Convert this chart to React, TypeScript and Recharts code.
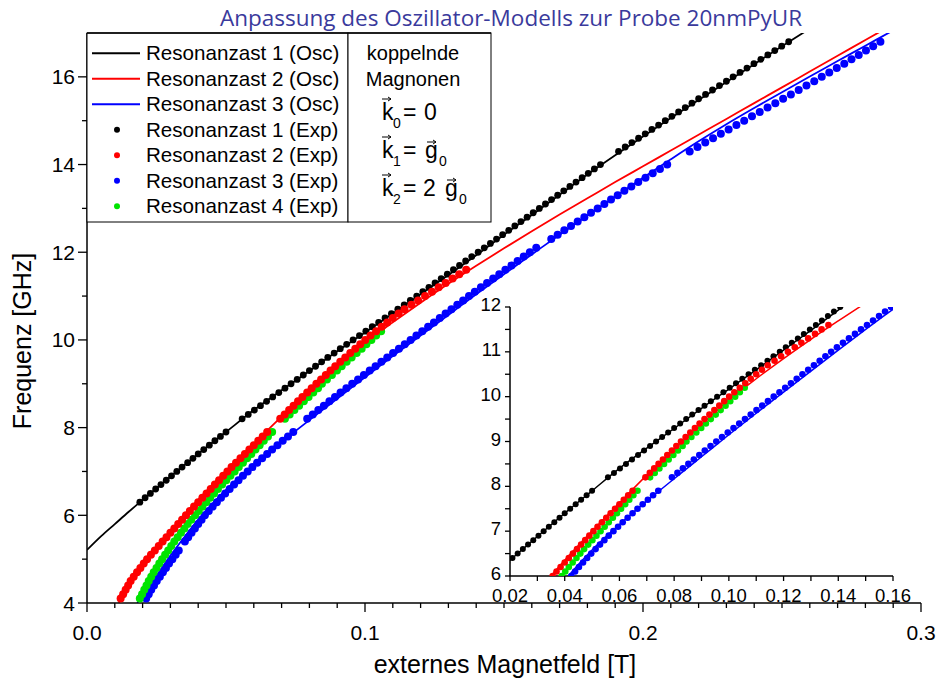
import React from 'react';
import { ComposedChart, Line, Scatter, XAxis, YAxis } from 'recharts';

// oscillator model curves: [field T, frequency GHz]
const osc1 = [
  [0, 5.21], [0.005, 5.52], [0.01, 5.8], [0.015, 6.08], [0.02, 6.35], [0.03, 6.88], [0.04, 7.4],
  [0.05, 7.9], [0.06, 8.4], [0.07, 8.85], [0.08, 9.29], [0.09, 9.74], [0.1, 10.17], [0.11, 10.6],
  [0.12, 11.04], [0.13, 11.48], [0.14, 11.93], [0.15, 12.4], [0.16, 12.85], [0.17, 13.31],
  [0.18, 13.77], [0.19, 14.21], [0.2, 14.64], [0.21, 15.06], [0.22, 15.47], [0.23, 15.88],
  [0.24, 16.29], [0.25, 16.7], [0.26, 17.1],
];
const osc2 = [
  [0.0115, 4.0], [0.015, 4.4], [0.02, 4.86], [0.025, 5.25], [0.03, 5.63], [0.035, 6.0], [0.04, 6.35],
  [0.05, 7.0], [0.06, 7.63], [0.07, 8.25], [0.08, 8.83], [0.09, 9.38], [0.1, 9.93], [0.11, 10.4],
  [0.12, 10.85], [0.13, 11.28], [0.14, 11.69], [0.15, 12.09], [0.16, 12.48], [0.17, 12.86],
  [0.18, 13.23], [0.19, 13.6], [0.2, 13.96], [0.21, 14.32], [0.22, 14.68], [0.23, 15.04],
  [0.24, 15.4], [0.25, 15.76], [0.26, 16.12], [0.27, 16.48], [0.28, 16.84], [0.29, 17.2],
];
const osc3 = [
  [0.0181, 4.0], [0.02, 4.18], [0.025, 4.62], [0.03, 5.08], [0.035, 5.5], [0.04, 5.9], [0.05, 6.58],
  [0.06, 7.15], [0.07, 7.67], [0.08, 8.17], [0.09, 8.66], [0.1, 9.15], [0.11, 9.63], [0.12, 10.1],
  [0.13, 10.57], [0.14, 11.04], [0.15, 11.5], [0.16, 11.95], [0.17, 12.4], [0.18, 12.84],
  [0.19, 13.27], [0.2, 13.7], [0.21, 14.12], [0.22, 14.53], [0.23, 14.92], [0.24, 15.29],
  [0.25, 15.65], [0.26, 16.01], [0.27, 16.36], [0.28, 16.71], [0.29, 17.06],
];

// measured resonances: [field T, frequency GHz]
const exp1 = [
  [0.019, 6.3], [0.0209, 6.4], [0.0228, 6.5], [0.0247, 6.6], [0.0266, 6.7], [0.0285, 6.8], [0.0304, 6.9],
  [0.0323, 7.0], [0.0342, 7.1], [0.0362, 7.2], [0.0381, 7.3], [0.04, 7.4], [0.042, 7.5], [0.044, 7.6],
  [0.046, 7.7], [0.048, 7.8], [0.05, 7.9],
  [0.0558, 8.2], [0.058, 8.3], [0.0602, 8.4], [0.0624, 8.5], [0.0646, 8.6], [0.0668, 8.7], [0.069, 8.8],
  [0.0712, 8.9], [0.0734, 9.0], [0.0756, 9.1], [0.0778, 9.2], [0.08, 9.3], [0.0822, 9.4], [0.0844, 9.5],
  [0.0866, 9.6], [0.0889, 9.7], [0.0911, 9.8], [0.0934, 9.9], [0.0957, 10.0], [0.098, 10.1],
  [0.1003, 10.2], [0.1026, 10.3], [0.1049, 10.4], [0.1072, 10.5], [0.1095, 10.6], [0.1118, 10.7],
  [0.1141, 10.8], [0.1163, 10.9], [0.1186, 11.0], [0.1208, 11.1], [0.123, 11.2], [0.1252, 11.3],
  [0.1274, 11.4], [0.1296, 11.5], [0.1318, 11.6], [0.134, 11.7], [0.1362, 11.8], [0.1384, 11.9],
  [0.1407, 12.0], [0.1429, 12.1], [0.1451, 12.2], [0.1473, 12.3], [0.1495, 12.4], [0.1517, 12.5],
  [0.1539, 12.6], [0.1561, 12.7], [0.1583, 12.8], [0.1605, 12.9], [0.1627, 13.0], [0.1649, 13.1],
  [0.1671, 13.2], [0.1693, 13.3], [0.1715, 13.4], [0.1737, 13.5], [0.1759, 13.6], [0.1781, 13.7],
  [0.1803, 13.8], [0.1825, 13.9], [0.1847, 14.0],
  [0.1912, 14.3], [0.1936, 14.4], [0.196, 14.5], [0.1984, 14.6], [0.2008, 14.7], [0.2032, 14.8],
  [0.2056, 14.9], [0.208, 15.0], [0.2104, 15.1], [0.2128, 15.2], [0.2152, 15.3], [0.2176, 15.4],
  [0.22, 15.5], [0.2225, 15.6], [0.225, 15.7], [0.2275, 15.8], [0.23, 15.9], [0.2324, 16.0],
  [0.2349, 16.1], [0.2374, 16.2], [0.2399, 16.3], [0.2424, 16.4], [0.2449, 16.5], [0.2474, 16.6],
  [0.2499, 16.7], [0.2524, 16.8],
];
const exp2 = [
  [0.0121, 4.1], [0.013, 4.2], [0.0139, 4.3], [0.0148, 4.4], [0.0157, 4.5], [0.0168, 4.6], [0.018, 4.7],
  [0.0192, 4.8], [0.0204, 4.9], [0.0216, 5.0], [0.023, 5.1], [0.0244, 5.2], [0.0258, 5.3], [0.0272, 5.4],
  [0.0286, 5.5], [0.03, 5.6], [0.0314, 5.7], [0.0328, 5.8], [0.0342, 5.9], [0.0356, 6.0], [0.037, 6.1],
  [0.0385, 6.2], [0.04, 6.3], [0.0415, 6.4], [0.043, 6.5], [0.0445, 6.6], [0.046, 6.7], [0.0475, 6.8],
  [0.049, 6.9], [0.0505, 7.0], [0.052, 7.1], [0.0536, 7.2], [0.0552, 7.3], [0.0568, 7.4], [0.0584, 7.5],
  [0.06, 7.6], [0.0616, 7.7], [0.0632, 7.8], [0.0648, 7.9],
  [0.0695, 8.2], [0.0711, 8.3], [0.0727, 8.4], [0.0743, 8.5], [0.0759, 8.6], [0.0775, 8.7],
  [0.0792, 8.8], [0.0808, 8.9], [0.0825, 9.0], [0.0842, 9.1], [0.0859, 9.2], [0.0876, 9.3],
  [0.0893, 9.4], [0.0911, 9.5], [0.0929, 9.6], [0.0947, 9.7], [0.0965, 9.8], [0.0983, 9.9],
  [0.1001, 10.0], [0.102, 10.1], [0.104, 10.2], [0.106, 10.3], [0.108, 10.4], [0.11, 10.5],
  [0.1121, 10.6], [0.1142, 10.7], [0.1167, 10.8], [0.1191, 10.9], [0.1216, 11.0], [0.1241, 11.1],
  [0.1265, 11.2], [0.129, 11.3], [0.1315, 11.4], [0.1339, 11.5], [0.1364, 11.6],
];
const exp3 = [
  [0.0213, 4.1], [0.0222, 4.2], [0.0231, 4.3], [0.0241, 4.4], [0.0251, 4.5], [0.0262, 4.6], [0.0273, 4.7],
  [0.0284, 4.8], [0.0295, 4.9], [0.0307, 5.0], [0.0319, 5.1], [0.033, 5.2],
  [0.0352, 5.4], [0.0364, 5.5], [0.0376, 5.6], [0.0388, 5.7], [0.04, 5.8], [0.0412, 5.9], [0.0424, 6.0],
  [0.0438, 6.1], [0.0452, 6.2], [0.0467, 6.3], [0.0482, 6.4], [0.0497, 6.5], [0.0513, 6.6], [0.0529, 6.7],
  [0.0545, 6.8], [0.0561, 6.9], [0.0578, 7.0], [0.0595, 7.1], [0.0612, 7.2], [0.063, 7.3], [0.0648, 7.4],
  [0.0666, 7.5], [0.0685, 7.6], [0.0704, 7.7], [0.0723, 7.8], [0.0742, 7.9],
  [0.0792, 8.2], [0.0812, 8.3], [0.0832, 8.4], [0.0852, 8.5], [0.0872, 8.6], [0.0892, 8.7],
  [0.0912, 8.8], [0.0933, 8.9], [0.0954, 9.0], [0.0975, 9.1], [0.0996, 9.2], [0.1017, 9.3],
  [0.1038, 9.4], [0.1059, 9.5], [0.108, 9.6], [0.1101, 9.7], [0.1122, 9.8], [0.1143, 9.9],
  [0.1164, 10.0], [0.1185, 10.1], [0.1206, 10.2], [0.1227, 10.3], [0.1248, 10.4], [0.1269, 10.5],
  [0.129, 10.6], [0.1311, 10.7], [0.1332, 10.8], [0.1353, 10.9], [0.1374, 11.0], [0.1395, 11.1],
  [0.1417, 11.2], [0.1439, 11.3], [0.1461, 11.4], [0.1483, 11.5], [0.1505, 11.6], [0.1527, 11.7],
  [0.1549, 11.8], [0.1571, 11.9], [0.1593, 12.0], [0.1616, 12.1],
  [0.167, 12.3], [0.1693, 12.4], [0.1717, 12.5], [0.1741, 12.6], [0.1765, 12.7], [0.1789, 12.8],
  [0.1813, 12.9], [0.1837, 13.0], [0.1861, 13.1], [0.1885, 13.2], [0.1909, 13.3], [0.1933, 13.4],
  [0.1958, 13.5], [0.1983, 13.6], [0.2009, 13.7], [0.2035, 13.8], [0.2061, 13.9], [0.2087, 14.0],
  [0.2168, 14.3], [0.2196, 14.4], [0.2224, 14.5], [0.2252, 14.6], [0.228, 14.7], [0.2308, 14.8],
  [0.2336, 14.9], [0.2364, 15.0], [0.2392, 15.1], [0.242, 15.2], [0.2448, 15.3], [0.2476, 15.4],
  [0.2504, 15.5], [0.2532, 15.6], [0.256, 15.7], [0.2588, 15.8], [0.2616, 15.9], [0.2643, 16.0],
  [0.267, 16.1], [0.2697, 16.2], [0.2724, 16.3], [0.275, 16.4], [0.2776, 16.5], [0.2802, 16.6],
  [0.2828, 16.7], [0.2854, 16.8],
];
const exp4 = [
  [0.019, 4.1], [0.0198, 4.2], [0.0206, 4.3], [0.0214, 4.4], [0.0222, 4.5], [0.0231, 4.6], [0.024, 4.7],
  [0.025, 4.8], [0.026, 4.9], [0.027, 5.0], [0.0281, 5.1], [0.0292, 5.2], [0.0303, 5.3], [0.0314, 5.4],
  [0.0326, 5.5], [0.0338, 5.6], [0.035, 5.7], [0.0362, 5.8], [0.0375, 5.9], [0.0389, 6.0], [0.0402, 6.1],
  [0.0415, 6.2], [0.0429, 6.3], [0.0443, 6.4], [0.0457, 6.5], [0.0471, 6.6], [0.0486, 6.7], [0.0501, 6.8],
  [0.0516, 6.9], [0.0531, 7.0], [0.0546, 7.1], [0.0561, 7.2], [0.0576, 7.3], [0.0591, 7.4], [0.0606, 7.5],
  [0.0621, 7.6], [0.0636, 7.7], [0.0651, 7.8], [0.0666, 7.9],
  [0.0712, 8.2], [0.0729, 8.3], [0.0746, 8.4], [0.0763, 8.5], [0.078, 8.6], [0.0797, 8.7],
  [0.0814, 8.8], [0.0831, 8.9], [0.0845, 9.0], [0.0863, 9.1], [0.0881, 9.2], [0.0899, 9.3],
  [0.0916, 9.4], [0.0934, 9.5], [0.0952, 9.6], [0.097, 9.7], [0.0988, 9.8], [0.1005, 9.9],
  [0.1023, 10.0], [0.104, 10.1], [0.1058, 10.2],
];

const legendNames = [
  'Resonanzast 1 (Osc)', 'Resonanzast 2 (Osc)', 'Resonanzast 3 (Osc)',
  'Resonanzast 1 (Exp)', 'Resonanzast 2 (Exp)', 'Resonanzast 3 (Exp)', 'Resonanzast 4 (Exp)',
];
const BLACK = '#000000';
const RED = '#ff0000';
const BLUE = '#0000ff';
const GREEN = '#00e400';

const mainXMajor = [0, 0.1, 0.2, 0.3];
const mainYMajor = [4, 6, 8, 10, 12, 14, 16];
const insetXMajor = [0.02, 0.04, 0.06, 0.08, 0.1, 0.12, 0.14, 0.16];
const insetYMajor = [6, 7, 8, 9, 10, 11, 12];

const mainXTicks = Array.from({ length: 31 }, (_, i) => i / 100);
const mainYTicks = Array.from({ length: 13 }, (_, i) => 4 + i);
const insetXTicks = Array.from({ length: 15 }, (_, i) => (i + 2) / 100);
const insetYTicks = Array.from({ length: 13 }, (_, i) => 6 + i / 2);

const FONT = 'Liberation Sans, Arial, sans-serif';

const xy = (a: number[][]) => a.map(([x, y]) => ({ x, y }));

type Side = 'bottom' | 'left' | 'top' | 'right';
const makeTick = (side: Side, majors: number[], major: number, minor: number,
  fmt?: (v: number) => string, off = 0, fs = 20, lift = 0) => (props: any) => {
  const { x, y, payload } = props;
  const v = payload.value;
  const isMajor = majors.some((m) => Math.abs(m - v) < 1e-6);
  const len = isMajor ? major : minor;
  let l = [x, y, x, y];
  if (side === 'bottom' || side === 'top') l = [x, y, x, y + len];
  if (side === 'left' || side === 'right') l = [x, y, x - len, y];
  return (
    <g>
      <line x1={l[0]} y1={l[1]} x2={l[2]} y2={l[3]} stroke="#000" strokeWidth={1.3} />
      {isMajor && fmt && side === 'bottom' && (
        <text x={x} y={y + off} textAnchor="middle" fontSize={fs} fontFamily={FONT} fill="#000">{fmt(v)}</text>
      )}
      {isMajor && fmt && side === 'left' && (
        <text x={x - off} y={y + fs * 0.36 - lift} textAnchor="end" fontSize={fs} fontFamily={FONT} fill="#000">{fmt(v)}</text>
      )}
    </g>
  );
};

const dot = (fill: string, r: number) => (p: any) => <circle cx={p.cx} cy={p.cy} r={r} fill={fill} />;

const axisLine = { stroke: '#000', strokeWidth: 1.5 };

const renderSeries = (big: boolean) => {
  const lw = big ? 1.8 : 1.5;
  const rb = big ? 3.4 : 3;
  const rc = big ? 4 : 3.3;
  return [
    <Line key="o1" data={xy(osc1)} dataKey="y" type="monotone" stroke={BLACK} strokeWidth={lw} dot={false} isAnimationActive={false} />,
    <Line key="o2" data={xy(osc2)} dataKey="y" type="monotone" stroke={RED} strokeWidth={lw} dot={false} isAnimationActive={false} />,
    <Line key="o3" data={xy(osc3)} dataKey="y" type="monotone" stroke={BLUE} strokeWidth={lw} dot={false} isAnimationActive={false} />,
    <Scatter key="e1" data={xy(exp1)} shape={dot(BLACK, rb)} isAnimationActive={false} />,
    <Scatter key="e3" data={xy(exp3)} shape={dot(BLUE, rc)} isAnimationActive={false} />,
    <Scatter key="e4" data={xy(exp4)} shape={dot(GREEN, rc)} isAnimationActive={false} />,
    <Scatter key="e2" data={xy(exp2)} shape={dot(RED, rc)} isAnimationActive={false} />,
  ];
};

const Arrow = ({ x, y, w }: { x: number; y: number; w: number }) => (
  <path d={`M${x},${y} H${x + w} M${x + w - 3},${y - 2} L${x + w},${y} L${x + w - 3},${y + 2}`} stroke="#000" strokeWidth={1} fill="none" />
);

export default function App() {
  const rows = [53.3, 78.8, 104.3, 129.8, 155.3, 180.8, 206.3];
  const colors = [BLACK, RED, BLUE, BLACK, RED, BLUE, GREEN];
  return (
    <div style={{ position: 'absolute', left: 0, top: 0, width: 937, height: 684, background: '#fff' }}>
      <div style={{ position: 'absolute', left: 0, top: 0 }}>
        <ComposedChart width={937} height={684} margin={{ top: 33, right: 16, bottom: 0, left: 0 }}>
          <XAxis dataKey="x" type="number" domain={[0, 0.3]} ticks={mainXTicks} interval={0} allowDataOverflow
            height={81} tickSize={0} tickMargin={0} tickLine={false} axisLine={axisLine}
            tick={makeTick('bottom', mainXMajor, 9, 5, (v) => v.toFixed(1), 37, 21)} />
          <XAxis xAxisId="top" orientation="top" type="number" domain={[0, 0.3]} ticks={mainXTicks} interval={0} allowDataOverflow
            height={0} tickSize={0} tickMargin={0} tickLine={false} axisLine={axisLine}
            tick={makeTick('top', mainXMajor, 9, 5)} />
          <YAxis dataKey="y" type="number" domain={[4, 17]} ticks={mainYTicks} interval={0} allowDataOverflow
            width={87} tickSize={0} tickMargin={0} tickLine={false} axisLine={axisLine}
            tick={makeTick('left', mainYMajor, 9, 5, (v) => String(v), 12, 21)} />
          <YAxis yAxisId="right" orientation="right" type="number" domain={[4, 17]} ticks={mainYTicks} interval={0} allowDataOverflow
            width={0} tickSize={0} tickMargin={0} tickLine={false} axisLine={axisLine}
            tick={makeTick('right', mainYMajor, 9, 5)} />
          {renderSeries(true)}
        </ComposedChart>
      </div>
      <div style={{ position: 'absolute', left: 470, top: 290 }}>
        <ComposedChart width={460} height={320} margin={{ top: 17, right: 37, bottom: 0, left: 0 }}>
          <XAxis dataKey="x" type="number" domain={[0.02, 0.16]} ticks={insetXTicks} interval={0} allowDataOverflow
            height={34} tickSize={0} tickMargin={0} tickLine={false} axisLine={axisLine}
            tick={makeTick('bottom', insetXMajor, 5, 5, (v) => v.toFixed(2), 26, 18.5)} />
          <XAxis xAxisId="top" orientation="top" type="number" domain={[0.02, 0.16]} ticks={insetXTicks} interval={0} allowDataOverflow
            height={0} tickSize={0} tickMargin={0} tickLine={false} axisLine={axisLine}
            tick={makeTick('top', insetXMajor, 5, 5)} />
          <YAxis dataKey="y" type="number" domain={[6, 12]} ticks={insetYTicks} interval={0} allowDataOverflow
            width={40} tickSize={0} tickMargin={0} tickLine={false} axisLine={axisLine}
            tick={makeTick('left', insetYMajor, 5, 5, (v) => String(v), 9, 18.5, 2.5)} />
          <YAxis yAxisId="right" orientation="right" type="number" domain={[6, 12]} ticks={insetYTicks} interval={0} allowDataOverflow
            width={0} tickSize={0} tickMargin={0} tickLine={false} axisLine={axisLine}
            tick={makeTick('right', insetYMajor, 5, 5)} />
          {renderSeries(false)}
        </ComposedChart>
      </div>
      <svg width={937} height={684} style={{ position: 'absolute', left: 0, top: 0, pointerEvents: 'none' }}>
        <text x={511} y={26} textAnchor="middle" fontFamily="Open Sans, sans-serif" fontSize={22.5} fill="#3a3a9c">
          Anpassung des Oszillator-Modells zur Probe 20nmPyUR
        </text>
        <text x={31} y={341} transform="rotate(-90 31 341)" textAnchor="middle" fontFamily={FONT} fontSize={25} fill="#000">
          Frequenz [GHz]
        </text>
        <text x={505} y={673} textAnchor="middle" fontFamily={FONT} fontSize={25} fill="#000">
          externes Magnetfeld [T]
        </text>
        <rect x={87} y={33} width={261} height={189} fill="#fff" stroke="#000" strokeWidth={1} />
        <rect x={348} y={33} width={143} height={189} fill="#fff" stroke="#000" strokeWidth={1} />
        <line x1={87} y1={33} x2={491} y2={33} stroke="#000" strokeWidth={1.5} />
        {legendNames.map((name, i) => (
          <g key={name}>
            {i < 3 ? (
              <line x1={92} x2={140} y1={rows[i]} y2={rows[i]} stroke={colors[i]} strokeWidth={2} />
            ) : (
              <circle cx={117} cy={rows[i]} r={3} fill={colors[i]} />
            )}
            <text x={146} y={rows[i] + 7} fontFamily={FONT} fontSize={20.6} fill="#000">{name}</text>
          </g>
        ))}
        <text x={413} y={60} textAnchor="middle" fontFamily={FONT} fontSize={20} fill="#000">koppelnde</text>
        <text x={413} y={86} textAnchor="middle" fontFamily={FONT} fontSize={20} fill="#000">Magnonen</text>
        <g fontFamily={FONT} fill="#000">
          <Arrow x={382} y={99} w={9} />
          <text x={382} y={120} fontSize={23}>k</text>
          <text x={393} y={128} fontSize={14}>0</text>
          <text x={403} y={120} fontSize={23}>=</text>
          <text x={424} y={120} fontSize={23}>0</text>

          <Arrow x={382} y={137} w={9} />
          <text x={382} y={158} fontSize={23}>k</text>
          <text x={393} y={166} fontSize={14}>1</text>
          <text x={403} y={158} fontSize={23}>=</text>
          <Arrow x={427} y={142} w={9} />
          <text x={425} y={158} fontSize={23}>g</text>
          <text x={439} y={166} fontSize={14}>0</text>

          <Arrow x={382} y={175} w={9} />
          <text x={382} y={196} fontSize={23}>k</text>
          <text x={393} y={204} fontSize={14}>2</text>
          <text x={403} y={196} fontSize={23}>=</text>
          <text x={423} y={196} fontSize={23}>2</text>
          <Arrow x={447} y={180} w={9} />
          <text x={445} y={196} fontSize={23}>g</text>
          <text x={459} y={204} fontSize={14}>0</text>
        </g>
      </svg>
    </div>
  );
}
